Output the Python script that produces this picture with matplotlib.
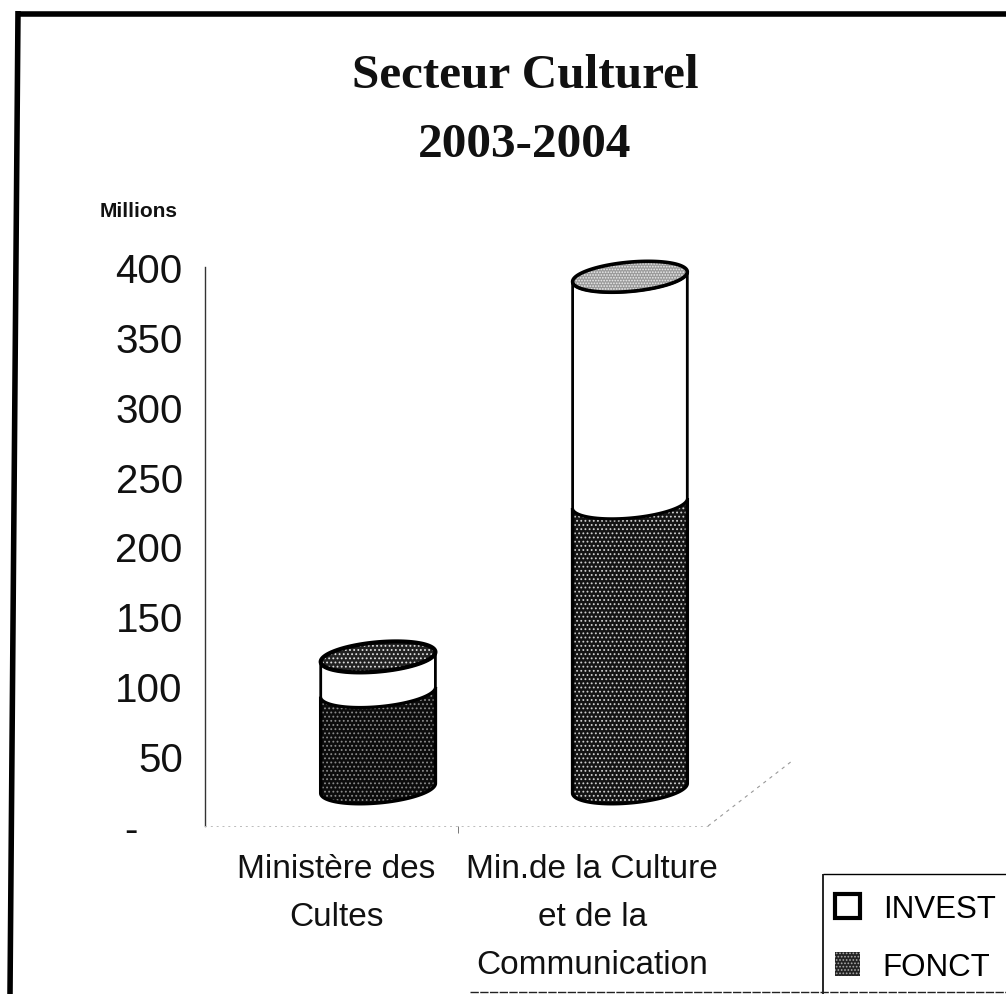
import numpy as np
import matplotlib
matplotlib.use('Agg')
import matplotlib.pyplot as plt
from matplotlib.patches import Polygon, Patch
from matplotlib.lines import Line2D

plt.rcParams['font.family'] = ['Liberation Sans', 'DejaVu Sans']
plt.rcParams['hatch.linewidth'] = 0.8

categories = ['Ministère des\nCultes', 'Min.de la Culture\net de la\nCommunication']
fonct = [69, 204]
invest = [25, 162]
y_ticks = [0, 50, 100, 150, 200, 250, 300, 350, 400]
y_labels = ['-    ', '50', '100', '150', '200', '250', '300', '350', '400']

W, H = 1006, 995
fig = plt.figure(figsize=(W / 100, H / 100), dpi=100, facecolor='white')

# axes placed in pixels: x axis at y=827, 400 at y=268
ax = fig.add_axes([205 / W, (H - 827) / H, 503 / W, 559 / H])
ax.set_ylim(0, 400)
ax.set_xlim(-0.512, -0.512 + 503 / 256)
ax.patch.set_visible(False)

# fake 3D: columns stand deeper than the floor edge
floor = 27
shift = [0.164, 0.148]
half_w = 0.224
half_h = 10.5
tilt = 3.5
t_front = np.linspace(np.pi, 2 * np.pi, 60)
t_all = np.linspace(0, 2 * np.pi, 120)


def speckled(pts, face, dots, hatch, lw):
    # hatch takes the edge colour, so the outline goes on as a second patch
    ax.add_patch(Polygon(pts, closed=True, facecolor=face, edgecolor=dots, linewidth=0, hatch=hatch, clip_on=False))
    ax.add_patch(Polygon(pts, closed=True, fill=False, edgecolor='black', linewidth=lw, clip_on=False))


def segment_pts(cx, y0, y1):
    x0 = cx + half_w * np.cos(t_front)
    v0 = y0 + half_h * np.sin(t_front) + tilt * np.cos(t_front)
    x1 = cx + half_w * np.cos(t_front)
    v1 = y1 + half_h * np.sin(t_front) + tilt * np.cos(t_front)
    return np.column_stack([np.r_[x0, x1[::-1]], np.r_[v0, v1[::-1]]])


for i in range(2):
    cx = i + shift[i]
    top = floor + fonct[i] + invest[i]
    if i == 0:
        speckled(segment_pts(cx, floor, floor + fonct[i]), '#0c0c0c', '#8a8a8a', '....', 2.5)
    else:
        speckled(segment_pts(cx, floor, floor + fonct[i]), '#141414', '#d0d0d0', '....', 2.5)
    ax.add_patch(Polygon(segment_pts(cx, floor + fonct[i], top), closed=True, facecolor='white',
                         edgecolor='black', linewidth=2.0, clip_on=False))
    ellipse = np.column_stack([cx + half_w * np.cos(t_all), top + half_h * np.sin(t_all) + tilt * np.cos(t_all)])
    if i == 0:
        speckled(ellipse, '#222222', '#e0e0e0', '....', 3.0)
    else:
        speckled(ellipse, '#9a9a9a', '#eeeeee', '......', 2.6)

ax.spines[['top', 'right']].set_visible(False)
ax.spines['left'].set_linewidth(1.0)
ax.spines['left'].set_color('#333333')
ax.spines['bottom'].set_linewidth(0.7)
ax.spines['bottom'].set_color('#bbbbbb')
ax.spines['bottom'].set_linestyle((0, (1, 5)))

ax.set_yticks(y_ticks)
ax.set_yticklabels(y_labels, fontsize=29, color='#111111')
ax.tick_params(axis='y', length=0, pad=16)
ax.set_xticks([0, 1])
ax.set_xticklabels(categories, fontsize=24, color='#111111', linespacing=1.7)
ax.tick_params(axis='x', length=0, pad=19.5)
ax.set_xticks([0.477], minor=True)
ax.tick_params(axis='x', which='minor', length=5, width=0.7, color='#777777')

# dashed floor edge running to the back
fig.add_artist(Line2D([708 / W, 792 / W], [(H - 827) / H, (H - 762) / H], color='#999999',
                      linewidth=0.8, linestyle=(0, (3, 4))))

fig.text(525 / W, (H - 88) / H, 'Secteur Culturel', family='Liberation Serif', fontweight='bold',
         fontsize=35.5, ha='center', va='baseline', color='#111111')
fig.text(525 / W, (H - 157) / H, '2003-2004', family='Liberation Serif', fontweight='bold',
         fontsize=35.5, ha='center', va='baseline', color='#111111')
fig.text(100 / W, (H - 217) / H, 'Millions', fontweight='bold', fontsize=15, ha='left', va='baseline',
         color='#111111')

handles = [Patch(facecolor='white', edgecolor='black', linewidth=3),
           Patch(facecolor='#222222', edgecolor='#aaaaaa', linewidth=0, hatch='.....')]
fig.legend(handles, ['INVEST', 'FONCT'], loc='lower left', bbox_to_anchor=(835 / W, 12 / H),
           bbox_transform=fig.transFigure, borderaxespad=0, borderpad=0, fontsize=22.5, frameon=False,
           handlelength=0.8, handleheight=0.8, handletextpad=0.73, labelspacing=0.89)

# legend box and scanned page frame
frame = dict(color='black', solid_capstyle='butt')
fig.add_artist(Line2D([823 / W, 823 / W], [(H - 875) / H, 0], linewidth=1.2, **frame))
fig.add_artist(Line2D([823 / W, 1], [(H - 875) / H, (H - 875) / H], linewidth=1.0, **frame))
fig.add_artist(Line2D([18 / W, 10 / W], [(H - 12) / H, 0], linewidth=4, **frame))
fig.add_artist(Line2D([16 / W, 1], [(H - 15) / H, (H - 15) / H], linewidth=4, **frame))
fig.add_artist(Line2D([470 / W, 1], [2 / H, 2 / H], color='#222222', linewidth=1.0, linestyle=(0, (6, 1))))

fig.savefig('out.png', dpi=100)
